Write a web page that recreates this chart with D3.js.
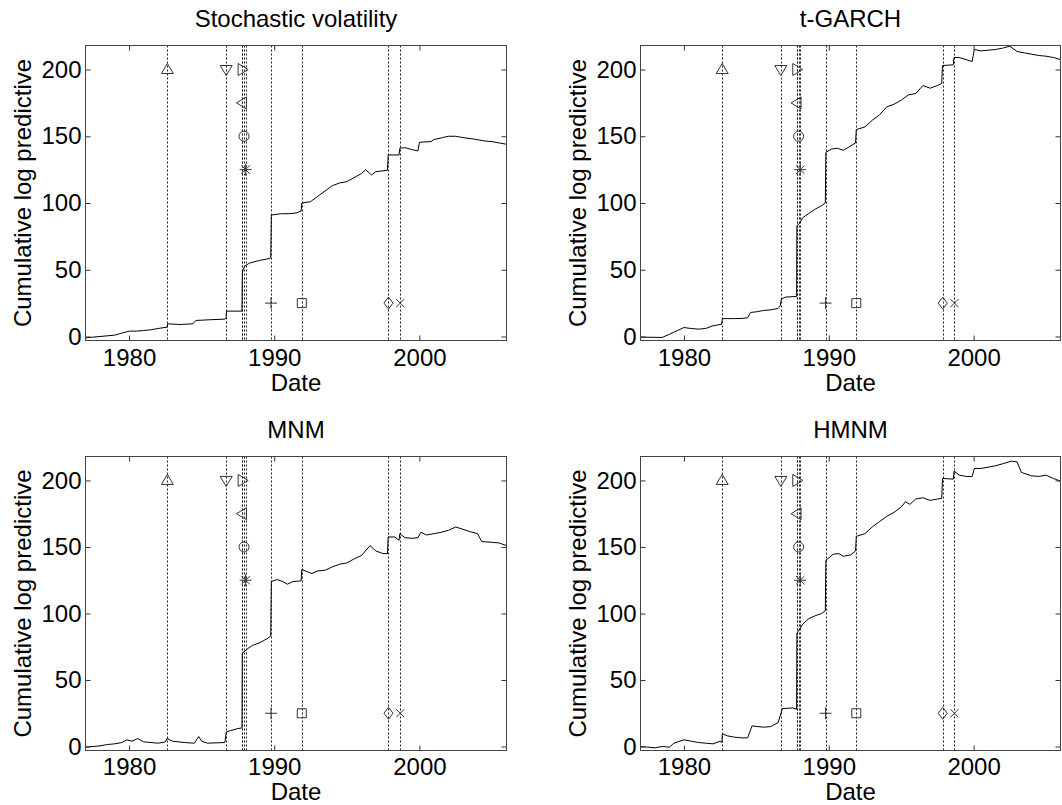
<!DOCTYPE html>
<html><head><meta charset="utf-8">
<script src="https://cdn.jsdelivr.net/npm/d3@7/dist/d3.min.js"></script>
<style>
body{margin:0;background:#fff}
svg{display:block}
text{font-family:"Liberation Sans",Arial,Helvetica,sans-serif;fill:#000}
</style>
</head><body>
<svg id="chart" width="1062" height="805"></svg>
<script>
// ---------------- data ----------------
const titles = ["Stochastic volatility", "t-GARCH", "MNM", "HMNM"];
const xTicks = [1980, 1990, 2000];
const yTicks = [0, 50, 100, 150, 200];
const xDomain = [1977, 2006];
const yDomain = [-3, 218];

const svDates  = [1977.0,1977.5,1978.0,1978.5,1979.0,1979.5,1980.0,1980.5,1981.0,1981.5,1982.0,1982.62,1982.65,1983.5,1984.4,1984.6,1985.5,1986.6,1986.68,1986.72,1987.78,1987.80,1987.85,1988.0,1988.3,1989.0,1989.7,1989.76,1989.78,1989.80,1990.5,1991.0,1991.5,1991.85,1991.9,1992.5,1993.0,1993.5,1994.0,1994.5,1995.0,1995.5,1996.0,1996.3,1996.7,1997.0,1997.8,1997.85,1998.6,1998.65,1999.0,1999.5,1999.9,2000.0,2000.8,2001.0,2001.6,2002.0,2002.5,2003.0,2003.7,2004.5,2005.0,2005.5,2006.0];
const svValues = [-1,-0.5,0,0.5,1,2.5,4,4,4.5,5,6,7,9.5,9,9.5,12,12.5,13,14,19,19,47,50,53,55,57,58.5,59,74,91,92,92,92.5,94,100,101,105,109,113,115,116,119,122,125,121,123.5,124.5,136,136,141,141.5,140,139,145.5,146,147.5,149,150,150,149,148,146.5,146,145,144];

const tgDates  = [1977.0,1978.5,1979.0,1979.5,1980.0,1980.5,1981.0,1981.5,1982.0,1982.6,1982.65,1983.5,1984.0,1984.4,1984.6,1985.0,1985.5,1986.0,1986.5,1986.65,1986.72,1987.0,1987.78,1987.80,1988.0,1988.2,1988.6,1989.0,1989.5,1989.76,1989.78,1989.80,1990.2,1990.6,1991.0,1991.4,1991.85,1991.9,1992.5,1993.0,1993.5,1994.0,1994.5,1995.0,1995.5,1996.0,1996.5,1997.0,1997.5,1997.8,1997.85,1998.6,1998.65,1999.0,1999.9,2000.05,2000.5,2001.0,2001.5,2002.0,2002.5,2003.0,2003.5,2004.0,2004.5,2005.0,2005.5,2006.0];
const tgValues = [-0.5,-0.7,1.7,4.2,6.7,6,5.5,6,8,9.2,13.4,13.4,13.5,14,18,18.5,19.5,20,21,23,28,29.5,30,83,85,89,92,95,98,100,118,138,140.5,141,139.5,142,145,155,157,162,166,172,174,177,181,182,188,186,188,189.5,203,203.5,209,209,206,215,214,214.5,215,216,217.5,213.5,212.5,211.5,210.5,210,209,207.5];

const mnmDates  = [1977.0,1977.5,1978.0,1978.5,1979.0,1979.5,1979.85,1980.2,1980.6,1981.0,1981.5,1982.0,1982.5,1982.62,1983.0,1983.8,1984.5,1984.8,1985.0,1985.4,1986.6,1986.7,1987.0,1987.5,1987.78,1987.80,1988.1,1988.5,1989.0,1989.5,1989.76,1989.80,1990.2,1990.6,1990.9,1991.3,1991.85,1991.9,1992.6,1993.0,1993.5,1994.0,1994.5,1995.0,1995.5,1996.0,1996.6,1997.0,1997.5,1997.8,1997.85,1998.3,1998.6,1998.65,1999.0,1999.5,1999.9,2000.1,2000.5,2001.0,2001.5,2002.0,2002.5,2003.5,2004.0,2004.3,2005.0,2005.5,2006.0];
const mnmValues = [-0.5,0,0.5,1.5,2,3,5,4,6,3.5,3,2.5,3.5,6,4,3,2.5,7.5,4,2.5,3,11,12,13.5,14,70,73,76,78,81,83,124,125.5,124,122,124,124.5,133,130,132,132.5,135,137,138,141,143.5,151,147,145,145,157.5,157.5,155,160,157,156.5,157,161,159,160,161,162.5,165,161.5,160,154,153.5,153,151];

const hmDates  = [1977.0,1977.5,1978.0,1978.5,1979.0,1979.3,1980.0,1980.5,1981.0,1981.5,1982.0,1982.5,1982.62,1982.65,1983.0,1983.5,1984.0,1984.4,1984.7,1985.5,1986.0,1986.5,1986.7,1986.8,1987.5,1987.78,1987.80,1988.2,1988.6,1989.0,1989.5,1989.76,1989.80,1990.3,1990.7,1991.0,1991.5,1991.85,1991.9,1992.5,1993.0,1993.5,1994.0,1994.5,1995.0,1995.3,1995.6,1996.0,1996.5,1997.0,1997.5,1997.8,1997.85,1998.6,1998.65,1999.0,1999.5,1999.9,2000.05,2000.5,2001.0,2001.5,2002.0,2002.6,2003.0,2003.3,2004.0,2004.5,2005.0,2005.5,2006.0];
const hmValues = [0,-0.5,-1,0,-0.5,2.5,5,4,3,2.5,2,4,3,9.5,8,7,6.5,6.5,15.5,14.5,15,18,25,28.5,29,28,85,92,96,98,100,102,140,144.5,145,143,144,147,158,160,165,169,173,176,180,184,182,186,187,185,186,186.5,201.5,201,207,204,203,203,209,209,210,211,212.5,214.5,214,206,203.5,203,204,201.5,199.5];

const seriesDates  = [svDates, tgDates, mnmDates, hmDates];
const seriesValues = [svValues, tgValues, mnmValues, hmValues];

// crisis events: date, marker height, marker symbol
const eventDates   = [1982.64, 1986.69, 1987.79, 1987.81, 1987.92, 1988.03, 1989.78, 1991.90, 1997.87, 1998.68];
const eventLevels  = [200, 200, 200, 175, 150, 125, 25, 25, 25, 25];
const eventSymbols = ["^", "v", ">", "<", "o", "*", "+", "s", "d", "x"];

// ---------------- layout ----------------
const svg = d3.select("#chart");
const FONT = 24;
const panelLayout = [
  {left: 85.5,  right: 506.5,  top: 45.5,  bottom: 340.5, tickPad: 8,   dateBase: 50},
  {left: 640.5, right: 1060.5, top: 45.5,  bottom: 340.5, tickPad: 8,   dateBase: 50},
  {left: 85.5,  right: 506.5,  top: 456.5, bottom: 750.5, tickPad: 7.5, dateBase: 49.5},
  {left: 640.5, right: 1060.5, top: 456.5, bottom: 750.5, tickPad: 7.5, dateBase: 49.5}
];

function markerPath(s) {
  switch (s) {
    case "^": return "M0,-6L6,4L-6,4Z";
    case "v": return "M0,6L6,-4L-6,-4Z";
    case ">": return "M6,0L-4,-6L-4,6Z";
    case "<": return "M-6,0L4,-6L4,6Z";
    case "o": return "M5,0A5,5 0 1,1 -5,0A5,5 0 1,1 5,0Z";
    case "*": return "M-6,0H6M0,-6V6M-4.2,-4.2L4.2,4.2M-4.2,4.2L4.2,-4.2";
    case "+": return "M-6,0H6M0,-6V6";
    case "s": return "M-4.5,-4.5H4.5V4.5H-4.5Z";
    case "d": return "M0,-6L4.5,0L0,6L-4.5,0Z";
    case "x": return "M-4,-4L4,4M-4,4L4,-4";
  }
}

panelLayout.forEach((p, i) => {
  const x = d3.scaleLinear().domain(xDomain).range([p.left, p.right]);
  const y = d3.scaleLinear().domain(yDomain).range([p.bottom, p.top]);
  const g = svg.append("g");

  const clipId = "clip" + i;
  svg.append("clipPath").attr("id", clipId).append("rect")
    .attr("x", p.left).attr("y", p.top)
    .attr("width", p.right - p.left).attr("height", p.bottom - p.top);

  // event dotted lines
  g.append("g").selectAll("line").data(eventDates).join("line")
    .attr("x1", d => Math.round(x(d)) + 0.5).attr("x2", d => Math.round(x(d)) + 0.5)
    .attr("y1", p.top).attr("y2", p.bottom)
    .attr("stroke", "#222").attr("stroke-width", 1)
    .attr("stroke-dasharray", "2,2");

  // series line
  const pts = seriesDates[i].map((d, k) => [d, seriesValues[i][k]]);
  g.append("path").datum(pts)
    .attr("clip-path", `url(#${clipId})`)
    .attr("fill", "none").attr("stroke", "#000").attr("stroke-width", 1)
    .attr("d", d3.line().x(d => x(d[0])).y(d => y(d[1])));

  // markers
  g.append("g").selectAll("path").data(eventDates).join("path")
    .attr("transform", (d, k) => `translate(${x(d)},${y(eventLevels[k])})`)
    .attr("d", (d, k) => markerPath(eventSymbols[k]))
    .attr("fill", "none").attr("stroke", "#333").attr("stroke-width", 1);

  // axes
  const styleAxis = sel => {
    sel.select(".domain").remove();
    sel.selectAll(".tick line").attr("stroke", "#333");
    sel.selectAll("text").attr("font-size", FONT).attr("fill", "#000");
    sel.attr("font-family", null).attr("font-size", null);
  };
  g.append("g").attr("transform", `translate(0,${p.bottom})`)
    .call(d3.axisBottom(x).tickValues(xTicks).tickFormat(d3.format("d")).tickSize(-5).tickPadding(p.tickPad))
    .call(styleAxis);
  g.append("g").attr("transform", `translate(0,${p.top})`)
    .call(d3.axisTop(x).tickValues(xTicks).tickFormat("").tickSize(-5))
    .call(styleAxis);
  g.append("g").attr("transform", `translate(${p.left},0)`)
    .call(d3.axisLeft(y).tickValues(yTicks).tickSize(-5).tickPadding(4))
    .call(styleAxis);
  g.append("g").attr("transform", `translate(${p.right},0)`)
    .call(d3.axisRight(y).tickValues(yTicks).tickFormat("").tickSize(-5))
    .call(styleAxis);

  // box
  g.append("rect").attr("x", p.left).attr("y", p.top)
    .attr("width", p.right - p.left).attr("height", p.bottom - p.top)
    .attr("fill", "none").attr("stroke", "#444").attr("stroke-width", 1);

  // title
  g.append("text").attr("x", (p.left + p.right) / 2).attr("y", p.top - 19)
    .attr("text-anchor", "middle").attr("font-size", FONT).text(titles[i]);
  // x label
  g.append("text").attr("x", (p.left + p.right) / 2).attr("y", p.bottom + p.dateBase)
    .attr("text-anchor", "middle").attr("font-size", FONT).text("Date");
  // y label
  g.append("text")
    .attr("transform", `translate(${p.left - 55},${(p.top + p.bottom) / 2}) rotate(-90)`)
    .attr("text-anchor", "middle").attr("font-size", FONT).text("Cumulative log predictive");
});
</script>
</body></html>
